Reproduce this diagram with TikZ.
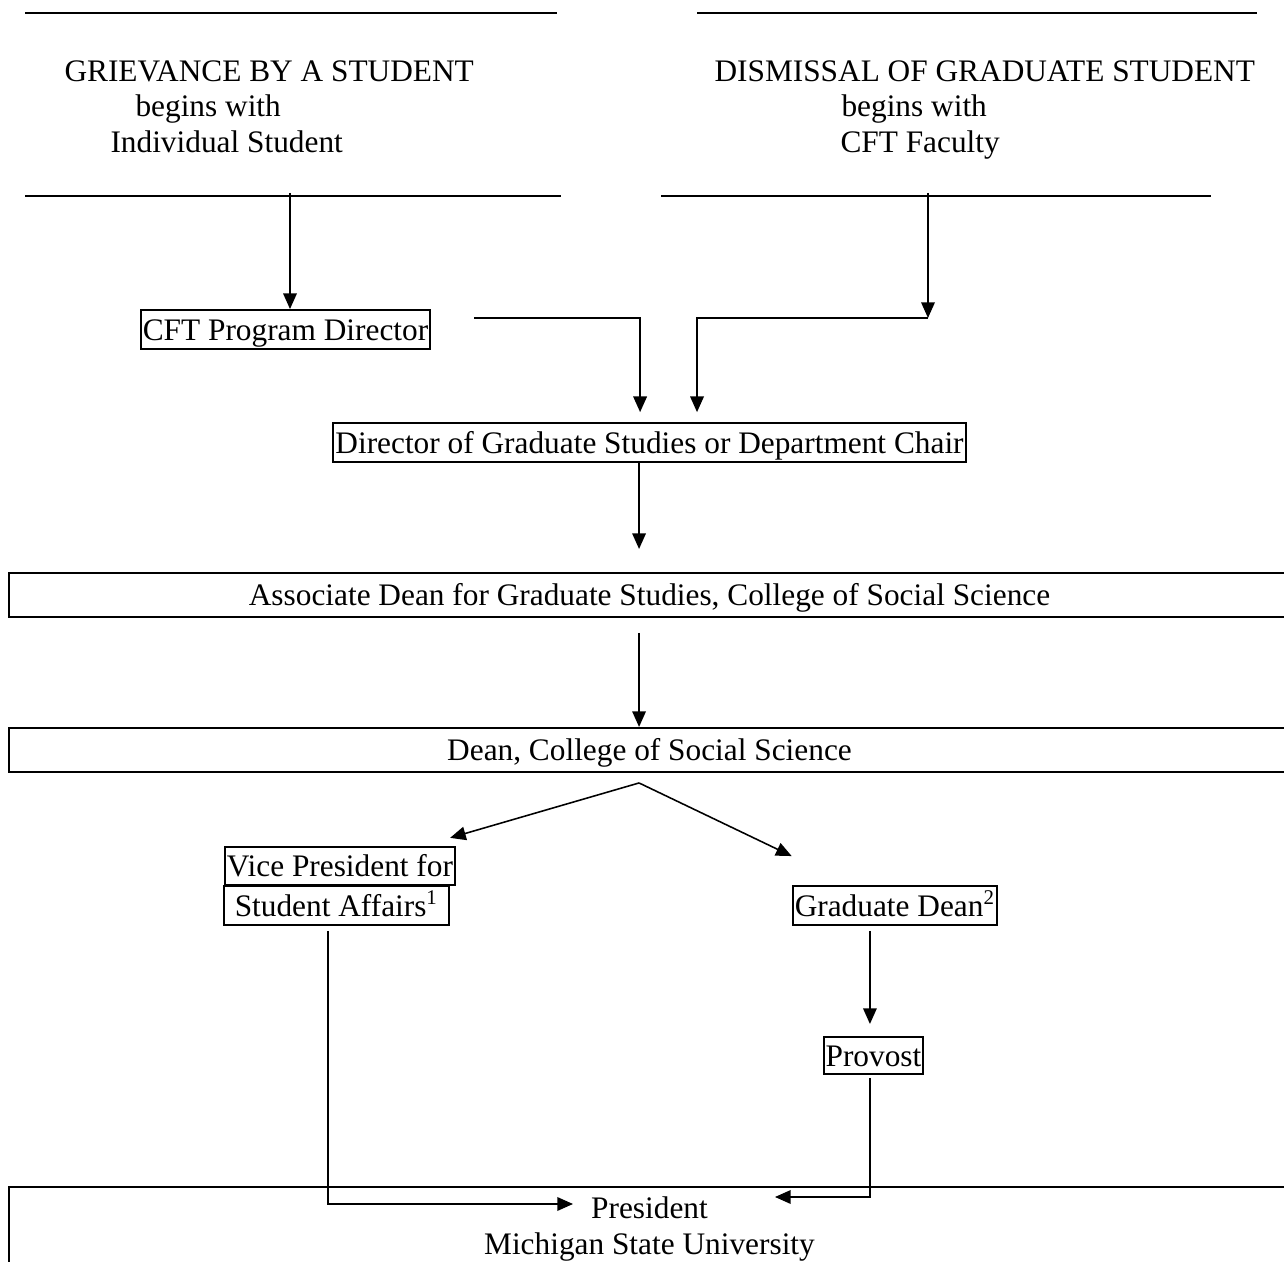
\documentclass[tikz,border=0pt]{standalone}
\usepackage{fontspec}
\setmainfont{Liberation Serif}
\usetikzlibrary{arrows.meta,positioning}
\begin{document}
\begin{tikzpicture}[
      x=0.383pt, y=-0.383pt,
      every node/.style={font=\fontsize{12}{13.8}\selectfont},
      box/.style={draw, line width=0.75pt, inner xsep=0.8pt, inner ysep=0pt,
        text height=9.6pt, text depth=1.3pt, minimum height=14.9pt},
      widebox/.style={box, minimum width=490.6pt, minimum height=16.9pt},
      presbox/.style={draw, line width=0.75pt, inner sep=0pt, align=center,
        minimum width=490.6pt, minimum height=32.2pt},
      title/.style={anchor=base west, inner sep=0pt},
      rule/.style={line width=0.45pt},
      flow/.style={-{Triangle[length=6pt,width=5.2pt]}, line width=0.6pt}
    ]

    \useasboundingbox (0,0) rectangle (1284,1262);
    \clip (0,0) rectangle (1284,1262);

    \node[title] (griev) at (64,82) {GRIEVANCE BY A STUDENT};
    \node[title] (gbegin) at (135,117) {begins with};
    \node[title] (gstud) at (110,153) {Individual Student};
    \node[title] (dism) at (714,82) {DISMISSAL OF GRADUATE STUDENT};
    \node[title] (dbegin) at (841,117) {begins with};
    \node[title] (dfac) at (840,153) {CFT Faculty};

    \draw[rule] (25,13) -- (557,13);
    \draw[rule] (697,13) -- (1257,13);
    \draw[rule] (25,196) -- (561,196);
    \draw[rule] (661,196) -- (1211,196);

    \node[box] (cft) at (285.5,329.5) {CFT Program Director};
    \node[box] (dgs) at (649.5,442.5) {Director of Graduate Studies or Department Chair};
    \node[widebox] (assoc) at (649.5,595) {Associate Dean for Graduate Studies, College of Social Science};
    \node[widebox] (dean) at (649.5,750) {Dean, College of Social Science};
    \node[box, minimum height=14.6pt] (vp) at (340,866) {Vice President for};
    \node[box, inner xsep=4pt] (vpsa) at (336.5,905.5) {Student Affairs\textsuperscript{1}};
    \node[box] (gd) at (895,905.5) {Graduate Dean\textsuperscript{2}};
    \node[box, minimum height=14.2pt] (prov) at (873.5,1055.5) {Provost};
    \node[presbox] (pres) at (649.5,1229) {President\\Michigan State University};

    \coordinate (gfoot) at (290,193);
    \coordinate (dfoot) at (928,193);
    \coordinate (dturn) at (928,318);
    \coordinate (cftout) at (474,318);
    \coordinate (apex) at ([xshift=-4pt,yshift=-3.8pt]dean.south);
    \coordinate (vpin) at (573,1204);
    \coordinate (provin) at (775,1197);

    \draw[flow] (gfoot) -- (gfoot |- cft.north);
    \draw[flow] (dfoot) -- (dturn);
    \draw[flow, shorten >=3.8pt] (cftout) -| ([xshift=-3.6pt]dgs.north);
    \draw[flow, shorten >=3.8pt] (dturn) -| ([xshift=18.2pt]dgs.north);
    \draw[flow, shorten >=8.8pt] ([xshift=-4pt]dgs.south) -- ([xshift=-4pt]assoc.north);
    \draw[flow, shorten <=5.7pt] ([xshift=-4pt]assoc.south) -- ([xshift=-4pt]dean.north);
    \draw[flow] (apex) -- ([xshift=-2.3pt,yshift=3.1pt]vp.north east);
    \draw[flow] (apex) -- ([yshift=11.1pt]gd.north west);
    \draw[flow, shorten <=1.9pt, shorten >=4.6pt] ([xshift=-9.6pt]gd.south) -- ([xshift=-9.6pt]gd.south |- prov.north);
    \draw[flow, shorten <=1.9pt] ([xshift=-3.3pt]vpsa.south) |- (vpin);
    \draw[flow, shorten <=1.1pt] ([xshift=-1.3pt]prov.south) |- (provin);

  \end{tikzpicture}
\end{document}
